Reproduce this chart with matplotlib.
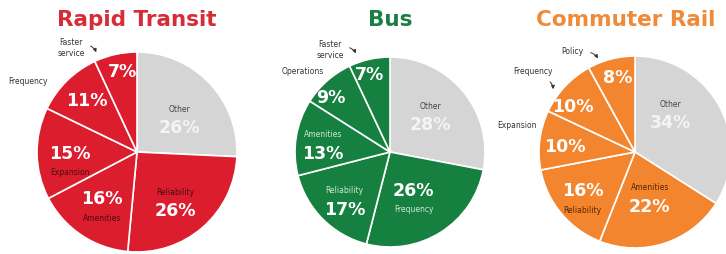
import numpy as np
import matplotlib
matplotlib.use("Agg")
from matplotlib import pyplot as plt

# data
rapid_labels = ["Other", "Reliability", "Amenities", "Expansion", "Frequency", "Faster\nservice"]
rapid_values = [26, 26, 16, 15, 11, 7]
bus_labels = ["Other", "Frequency", "Reliability", "Amenities", "Operations", "Faster\nservice"]
bus_values = [28, 26, 17, 13, 9, 7]
rail_labels = ["Other", "Amenities", "Reliability", "Expansion", "Frequency", "Policy"]
rail_values = [34, 22, 16, 10, 10, 8]
titles = ["Rapid Transit", "Bus", "Commuter Rail"]

W, H = 726, 254

# style / layout (image pixel coords, y down)
charts = [
    dict(title=titles[0], labels=rapid_labels, values=rapid_values,
         center=(137, 152), r=100, title_x=137,
         color="#dc1d2d", title_color="#d62c37", name_color="#4a0a10",
         frac=[0.54, 0.63, 0.66, 0.68, 0.72, 0.81],
         shift=[6, 4, -2, -8, 0, 2],
         name_pos=["above", "above", "below", "below", None, None],
         outside={4: dict(xy=(-109, -70)),
                  5: dict(xy=(-66, -104), arrow=((-49, -107), (-40, -97)))}),
    dict(title=titles[1], labels=bus_labels, values=bus_values,
         center=(390, 152), r=95, title_x=390,
         color="#15803f", title_color="#1b7f45", name_color="#cfe8d6",
         frac=[0.57, 0.56, 0.70, 0.71, 0.84, 0.84],
         shift=[-2, 6, -2, -3, -6, -2],
         name_pos=["above", "below", "above", "above", None, None],
         outside={4: dict(xy=(-87, -80)),
                  5: dict(xy=(-60, -102), arrow=((-43, -105), (-33, -96)))}),
    dict(title=titles[2], labels=rail_labels, values=rail_values,
         center=(635, 152), r=96, title_x=626,
         color="#f4852f", title_color="#ee8a38", name_color="#5a2600",
         frac=[0.54, 0.50, 0.74, 0.73, 0.80, 0.79],
         shift=[-18, 0, -3, -3, -7, 1],
         name_pos=["above", "above", "below", None, None, None],
         outside={3: dict(xy=(-118, -27)),
                  4: dict(xy=(-102, -80), arrow=((-87, -72), (-82, -60))),
                  5: dict(xy=(-63, -100), arrow=((-47, -100), (-36, -91)))}),
]

grey = "#d5d5d5"
hand = "#333333"
pct_size = 12.5

fig = plt.figure(figsize=(W / 100, H / 100), dpi=100)
ax = fig.add_axes([0, 0, 1, 1])

for c in charts:
    cx, cy = c["center"][0], H - c["center"][1]
    r = c["r"]
    vals = np.array(c["values"], dtype=float)
    cols = [grey] + [c["color"]] * (len(vals) - 1)
    ax.pie(vals, colors=cols, startangle=90, counterclock=False,
           center=(cx, cy), radius=r,
           wedgeprops=dict(edgecolor="white", linewidth=1.2))

    ax.text(c["title_x"], H - 20, c["title"], ha="center", va="center",
            fontsize=15.5, fontweight="heavy", color=c["title_color"])

    frac_cum = np.cumsum(vals) / vals.sum()
    starts = np.concatenate([[0], frac_cum[:-1]])
    for i, v in enumerate(c["values"]):
        mid = (starts[i] + frac_cum[i]) / 2 * 360 + c["shift"][i]
        a = np.radians(mid)
        bx = cx + c["frac"][i] * r * np.sin(a)
        by = cy + c["frac"][i] * r * np.cos(a)
        pct_col = "#f4f4f4" if i == 0 else "white"
        name_col = "#444444" if i == 0 else c["name_color"]
        pos = c["name_pos"][i]
        if pos == "above":
            ax.text(bx, by + 10, c["labels"][i], ha="center", va="center",
                    fontsize=5.5, color=name_col)
            ax.text(bx, by - 9, f"{v}%", ha="center", va="center",
                    fontsize=pct_size, fontweight="bold", color=pct_col)
        elif pos == "below":
            ax.text(bx, by + 9, f"{v}%", ha="center", va="center",
                    fontsize=pct_size, fontweight="bold", color=pct_col)
            ax.text(bx, by - 10, c["labels"][i], ha="center", va="center",
                    fontsize=5.5, color=name_col)
        else:
            ax.text(bx, by, f"{v}%", ha="center", va="center",
                    fontsize=pct_size, fontweight="bold", color=pct_col)
            o = c["outside"][i]
            tx, ty = o["xy"]
            ax.text(cx + tx, cy - ty, c["labels"][i], ha="center", va="center",
                    fontsize=5.5, color=hand, linespacing=1.3)
            if "arrow" in o:
                (sx, sy), (ex, ey) = o["arrow"]
                ax.annotate("", xy=(cx + ex, cy - ey), xytext=(cx + sx, cy - sy),
                            arrowprops=dict(arrowstyle="-|>", color=hand,
                                            lw=0.7, mutation_scale=5,
                                            connectionstyle="arc3,rad=-0.3"))

ax.set_xlim(0, W)
ax.set_ylim(0, H)
ax.set_aspect("equal")
ax.axis("off")

fig.savefig("out.png", dpi=100, facecolor="white")
